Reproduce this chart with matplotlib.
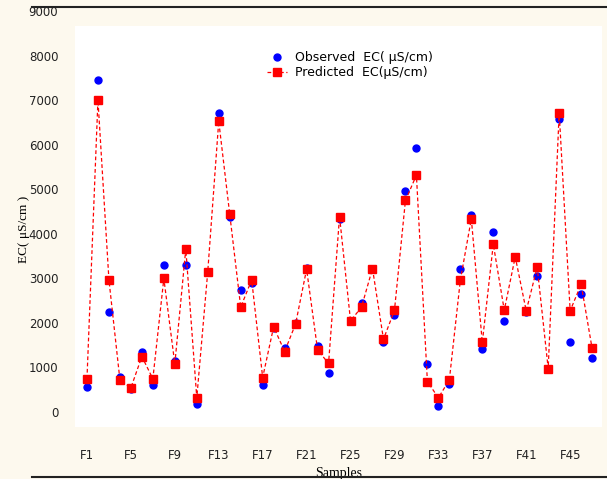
import numpy as np
import matplotlib
matplotlib.use('Agg')
import matplotlib.pyplot as plt
from matplotlib.lines import Line2D

# sample ids F1..F47
samples = ['F{0}'.format(i) for i in range(1, 48)]

observed = [547, 7453, 2225, 772, 502, 1348, 600, 3288, 1146, 3288,
            165, 3146, 6704, 4367, 2734, 2899, 592, 1873, 1431, 1985,
            3221, 1476, 861, 4322, 2030, 2434, 3213, 1558, 2165, 4944,
            5918, 1071, 120, 614, 3206, 4419, 1408, 4045, 2037, 3468,
            2240, 3056, 966, 6584, 1566, 2637, 1206]

predicted = [734, 7004, 2959, 712, 532, 1236, 734, 2989, 1071, 3655,
             307, 3146, 6524, 4434, 2345, 2959, 764, 1903, 1348, 1970,
             3198, 1386, 1079, 4382, 2037, 2345, 3213, 1625, 2270, 4742,
             5311, 674, 307, 712, 2951, 4330, 1551, 3760, 2277, 3476,
             2262, 3243, 966, 6719, 2262, 2861, 1416]

tick_labels = samples[::4]
y_ticks = np.arange(0, 9001, 1000)

cream = '#fdf9ee'

fig = plt.figure(figsize=(6.07, 4.79), dpi=100, facecolor=cream)
ax = fig.add_axes([75/607, 1 - 427/479, 527/607, 416/479])
ax.set_facecolor('white')

x = np.arange(1, len(samples) + 1)
ax.plot(x, observed, 'o', color='blue', markersize=5, zorder=3,
        label='Observed  EC( \u03bcS/cm)')
ax.plot(x, predicted, 's--', color='red', markersize=6, linewidth=0.9,
        dashes=(3, 2), zorder=4, label='Predicted  EC(\u03bcS/cm)')

ax.set_xlim(-0.09, 47.9)
ax.set_ylim(-348, 9000)
# strip above the plotting area is part of the frame, not the plot
ax.axhspan(8663, 9000, color=cream, zorder=0, linewidth=0)

ax.set_xticks(x[::4])
ax.set_xticklabels(tick_labels)
ax.set_yticks(y_ticks)
ax.tick_params(axis='both', length=0, labelsize=8.5, colors='#222222')
ax.tick_params(axis='x', pad=16)
ax.tick_params(axis='y', pad=12)
for s in ax.spines.values():
    s.set_visible(False)

ax.set_xlabel('Samples', family='Liberation Serif', fontsize=10)
ax.xaxis.set_label_coords(0.5, -0.095)
ax.set_ylabel('EC( \u03bcS/cm )', family='Liberation Serif', fontsize=9.5)
ax.yaxis.set_label_coords(-0.085, 0.474)

ax.legend(loc='upper left', bbox_to_anchor=(0.355, 0.915), frameon=False,
          fontsize=9, handlelength=1.6, labelspacing=0.15, borderaxespad=0,
          handletextpad=0.6)

fig.add_artist(Line2D([32/607, 1], [1 - 7/479] * 2, color='#222222', linewidth=1.5))
fig.add_artist(Line2D([32/607, 1], [1 - 477/479] * 2, color='#222222', linewidth=1.5))

fig.savefig('out.png', dpi=100, facecolor=cream)
